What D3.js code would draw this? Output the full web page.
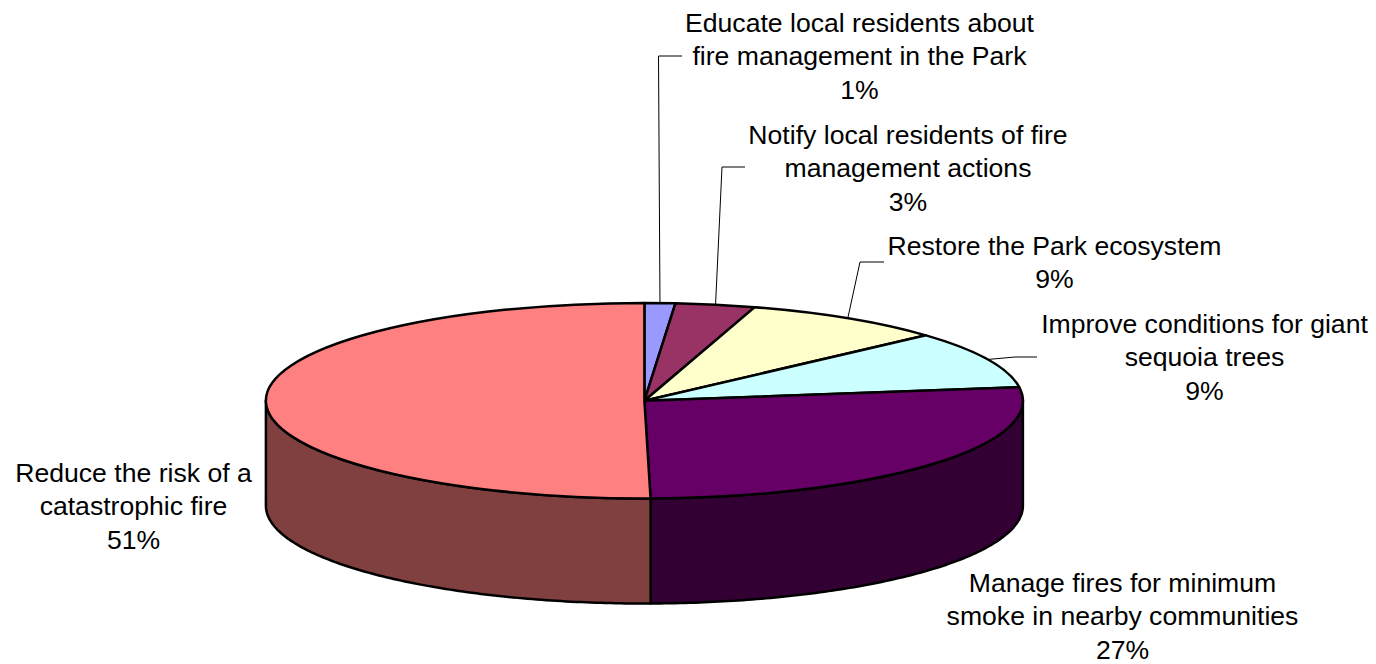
<!DOCTYPE html>
<html><head><meta charset="utf-8">
<script src="https://cdn.jsdelivr.net/npm/d3@7"></script>
<style>html,body{margin:0;padding:0;background:#fff}svg{display:block}
text{font-family:"Liberation Sans",Arial,sans-serif;font-size:26.6px;fill:#000;text-anchor:middle}</style>
</head><body><script>
const categories = [
  ["Educate local residents about","fire management in the Park"],
  ["Notify local residents of fire","management actions"],
  ["Restore the Park ecosystem"],
  ["Improve conditions for giant","sequoia trees"],
  ["Manage fires for minimum","smoke in nearby communities"],
  ["Reduce the risk of a","catastrophic fire"]
];
const values = [1.31, 3.40, 8.64, 9.45, 26.94, 50.26];
const percentLabels = ["1%","3%","9%","9%","27%","51%"];
const topColors = ["#9999FF","#993366","#FFFFCC","#CCFFFF","#660066","#FF8080"];
const sideColors = ["#4C4C80","#4C1933","#808066","#668080","#330033","#804040"];

// layout
const W = 1376, H = 664;
const cx = 644.4, cy = 400.7, rx = 378.5, ry = 97.8, depth = 105;
const labelCenters = [[859.5,32],[908,144],[1054.5,255],[1204.5,333],[1122.5,592],[133.5,482]];
const lineStep = 33.4;
const leaderElbows = [[658.5,56,682],[722,167,745],[860,262,884],[1015,357,1037],null,null];

const svg = d3.select("body").append("svg").attr("width",W).attr("height",H);
const px = d3.scaleLinear().domain([-1,1]).range([cx-rx,cx+rx]);
const py = d3.scaleLinear().domain([-1,1]).range([cy-ry,cy+ry]);
const pt = (a,dz=0)=>[px(Math.sin(a)), py(-Math.cos(a))+dz];

const arcs = d3.pie().sort(null).value(d=>d)(values);
const line = d3.line();

// front wall
arcs.forEach((d,i)=>{
  const a0 = Math.max(d.startAngle, Math.PI/2), a1 = Math.min(d.endAngle, 3*Math.PI/2);
  if (a1 <= a0) return;
  const as = d3.range(0,121).map(k=>a0+(a1-a0)*k/120);
  const pts = as.map(a=>pt(a)).concat(as.slice().reverse().map(a=>pt(a,depth)));
  svg.append("path").attr("d",line(pts)+"Z").attr("fill",sideColors[i])
    .attr("stroke","#000").attr("stroke-width",2.5).attr("stroke-linejoin","round");
});

// top face
const arcGen = d3.arc().innerRadius(0).outerRadius(rx);
const topG = svg.append("g").attr("transform",`translate(${cx},${cy}) scale(1,${ry/rx})`);
topG.selectAll("path").data(arcs).join("path")
  .attr("d",arcGen).attr("fill",(d,i)=>topColors[i])
  .attr("stroke","#000").attr("stroke-width",2.5).attr("stroke-linejoin","round")
  .attr("vector-effect","non-scaling-stroke");

// leader lines
arcs.forEach((d,i)=>{
  const e = leaderElbows[i]; if(!e) return;
  const s = pt((d.startAngle+d.endAngle)/2);
  svg.append("path").attr("d",line([s,[e[0],e[1]],[e[2],e[1]]]))
    .attr("fill","none").attr("stroke","#000").attr("stroke-width",1);
});

// labels
categories.forEach((ls,i)=>{
  const t = svg.append("text").attr("x",labelCenters[i][0]);
  ls.concat(percentLabels[i]).forEach((s,k)=>{
    t.append("tspan").attr("x",labelCenters[i][0]).attr("y",labelCenters[i][1]+k*lineStep).text(s);
  });
});
</script></body></html>
